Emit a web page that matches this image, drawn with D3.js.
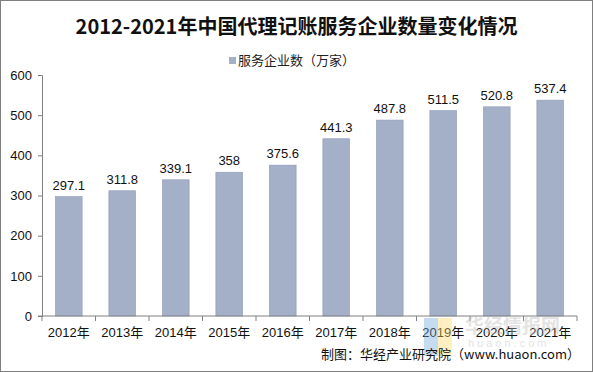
<!DOCTYPE html>
<html>
<head>
<meta charset="utf-8">
<script src="https://cdn.jsdelivr.net/npm/d3@7"></script>
<style>
body { margin: 0; background: #fff; }
svg { display: block; }
</style>
</head>
<body>
<svg id="chart" width="593" height="372"></svg>
<script>
const years = ["2012年", "2013年", "2014年", "2015年", "2016年", "2017年", "2018年", "2019年", "2020年", "2021年"];
const counts = [297.1, 311.8, 339.1, 358, 375.6, 441.3, 487.8, 511.5, 520.8, 537.4];
const yTicks = [0, 100, 200, 300, 400, 500, 600];

const svg = d3.select("#chart");
const W = 593, H = 372;
const margin = { left: 42, right: 16, top: 75, bottom: 56 };

// outer frame
svg.append("rect")
    .attr("x", 0.5).attr("y", 0.5)
    .attr("width", W - 1).attr("height", H - 1)
    .attr("fill", "#fff").attr("stroke", "#7f7f7f");

const x = d3.scaleBand().domain(years)
    .range([margin.left, W - margin.right])
    .paddingInner(0.5).paddingOuter(0.25);
const y = d3.scaleLinear().domain([0, 600])
    .range([H - margin.bottom, margin.top]);

// title
svg.append("text")
    .attr("x", W / 2).attr("y", 34)
    .attr("text-anchor", "middle")
    .style("font-family", "'Noto Sans CJK SC', sans-serif")
    .style("font-weight", "bold")
    .style("font-size", "20px")
    .attr("fill", "#111")
    .text("2012-2021年中国代理记账服务企业数量变化情况");

// legend
svg.append("rect")
    .attr("x", 229).attr("y", 57).attr("width", 7).attr("height", 7)
    .attr("fill", "#a4afc8");
svg.append("text")
    .attr("x", 238).attr("y", 65)
    .style("font-family", "'Noto Sans CJK SC', sans-serif")
    .style("font-size", "13px")
    .attr("fill", "#222")
    .text("服务企业数（万家）");

// y axis
const yAxis = svg.append("g")
    .attr("transform", `translate(${margin.left},0)`)
    .call(d3.axisLeft(y).tickValues(yTicks).tickSize(4).tickPadding(6));
yAxis.select(".domain").attr("stroke", "#808080");
yAxis.selectAll(".tick line").attr("stroke", "#808080");
yAxis.selectAll("text")
    .style("font-family", "'Liberation Sans', Arial, sans-serif")
    .style("font-size", "13px").attr("fill", "#111");

// bars
svg.selectAll(".bar")
    .data(counts)
    .enter()
    .append("rect")
    .attr("class", "bar")
    .attr("x", (d, i) => x(years[i]))
    .attr("y", d => y(d))
    .attr("width", x.bandwidth())
    .attr("height", d => y(0) - y(d))
    .attr("fill", "#a4afc8")
    .attr("stroke", "#8e9bb9")
    .attr("stroke-width", 0.6);

// value labels
svg.selectAll(".val")
    .data(counts)
    .enter()
    .append("text")
    .attr("class", "val")
    .attr("x", (d, i) => x(years[i]) + x.bandwidth() / 2)
    .attr("y", d => y(d) - 7)
    .attr("text-anchor", "middle")
    .style("font-family", "'Liberation Sans', Arial, sans-serif")
    .style("font-size", "13px").attr("fill", "#111")
    .text(d => d);

// x axis
const step = x.step();
const xAxis = svg.append("g")
    .attr("transform", `translate(0,${y(0)})`);
xAxis.append("line")
    .attr("x1", margin.left - 4).attr("x2", W - margin.right)
    .attr("stroke", "#808080");
xAxis.selectAll(".xt")
    .data(d3.range(years.length + 1))
    .enter()
    .append("line")
    .attr("x1", i => margin.left + i * step).attr("x2", i => margin.left + i * step)
    .attr("y1", 0).attr("y2", 5)
    .attr("stroke", "#808080");
xAxis.selectAll(".xl")
    .data(years)
    .enter()
    .append("text")
    .attr("x", d => x(d) + x.bandwidth() / 2)
    .attr("y", 21)
    .attr("text-anchor", "middle")
    .style("font-family", "'Liberation Sans', 'Noto Sans CJK SC', sans-serif")
    .style("font-size", "13px").attr("fill", "#111")
    .text(d => d);

// watermark
const wm = svg.append("g").attr("opacity", 0.4);
wm.append("rect").attr("x", 424).attr("y", 318).attr("width", 14).attr("height", 38).attr("fill", "#6fa8dc");
wm.append("rect").attr("x", 438).attr("y", 318).attr("width", 14).attr("height", 38).attr("fill", "#ffd966");
wm.append("text").attr("x", 465).attr("y", 333)
    .style("font-family", "'Noto Sans CJK SC', sans-serif")
    .style("font-size", "19px").style("font-weight", "bold").attr("fill", "#bbb")
    .text("华经情报网");
wm.append("text").attr("x", 468).attr("y", 347)
    .style("font-family", "'Liberation Sans', sans-serif")
    .style("font-size", "11px").attr("letter-spacing", "3px").attr("fill", "#bbb")
    .text("huaon.com");

// source
svg.append("text")
    .attr("x", 580).attr("y", 359)
    .attr("text-anchor", "end")
    .style("font-family", "'Noto Sans CJK SC', sans-serif")
    .style("font-size", "13px").attr("fill", "#111")
    .text("制图：华经产业研究院（www.huaon.com）");
</script>
</body>
</html>
